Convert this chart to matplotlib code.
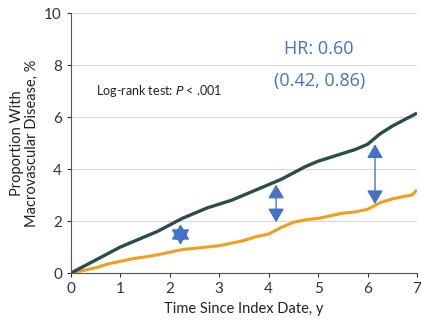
import matplotlib.pyplot as plt
from matplotlib.path import Path

plt.rcParams["font.family"] = ["Lato", "DejaVu Sans"]

# (years, % with macrovascular disease)
t_teal = [0, 0.25, 0.5, 0.75, 1, 1.25, 1.5, 1.75, 2, 2.25, 2.5, 2.75, 3, 3.25, 3.5,
          3.75, 4, 4.25, 4.5, 4.75, 5, 5.25, 5.5, 5.75, 6, 6.25, 6.5, 6.75, 7]
y_teal = [0, 0.25, 0.5, 0.75, 1.0, 1.2, 1.4, 1.6, 1.85, 2.1, 2.3, 2.5, 2.65, 2.8, 3.0,
          3.2, 3.4, 3.6, 3.85, 4.1, 4.3, 4.45, 4.6, 4.75, 4.95, 5.35, 5.65, 5.9, 6.15]
t_orange = [0, 0.25, 0.5, 0.75, 1, 1.25, 1.5, 1.75, 2, 2.25, 2.5, 2.75, 3, 3.25, 3.5,
            3.75, 4, 4.25, 4.5, 4.75, 5, 5.25, 5.5, 5.75, 6, 6.25, 6.5, 6.75, 6.9, 7]
y_orange = [0, 0.1, 0.2, 0.35, 0.45, 0.55, 0.62, 0.7, 0.8, 0.9, 0.95, 1.0, 1.05, 1.15, 1.25,
            1.4, 1.5, 1.75, 1.95, 2.05, 2.1, 2.2, 2.3, 2.35, 2.45, 2.7, 2.85, 2.95, 3.0, 3.2]

star_xy = (2.2, 1.5)
arrows = [(4.15, 3.4, 1.95), (6.15, 4.95, 2.65)]

blue = "#4472c4"

# hexagram marker: two triangles sharing a centre
hexagram = Path(
    [(0, 1), (-0.866, -0.5), (0.866, -0.5), (0, 1),
     (0, -1), (0.866, 0.5), (-0.866, 0.5), (0, -1)],
    [Path.MOVETO, Path.LINETO, Path.LINETO, Path.CLOSEPOLY] * 2,
)

fig = plt.figure(figsize=(4.21, 3.21), dpi=100)
ax = fig.add_axes([0.1686, 0.1495, 0.8219, 0.81])

ax.plot(t_orange, y_orange, color="#f39c1e", lw=2.2, solid_capstyle="butt")
ax.plot(t_teal, y_teal, color="#2a4d4c", lw=2.4, solid_capstyle="butt")

ax.plot(*star_xy, marker=hexagram, color=blue, ms=13, ls="none")
for x, y0, y1 in arrows:
    ax.annotate("", xy=(x, y1), xytext=(x, y0),
                arrowprops=dict(arrowstyle="<|-|>,head_length=0.6,head_width=0.35",
                                color=blue, lw=1.0, mutation_scale=14,
                                shrinkA=0, shrinkB=0))

ax.text(5.02, 8.6, "HR: 0.60", color=blue, fontsize=13, ha="center", va="center",
        family="Open Sans")
ax.text(5.02, 7.4, "(0.42, 0.86)", color=blue, fontsize=13, ha="center", va="center",
        family="Open Sans")
ax.text(0.5, 7.0, "Log-rank test: $\\it{P}$ < .001", fontsize=9, color="#222222",
        va="center")

ax.set_xlim(0, 7)
ax.set_ylim(0, 10)
ax.set_xticks(range(8))
ax.set_yticks(range(0, 11, 2))
ax.grid(axis="y", color="#d9d9d9", lw=0.8)
ax.set_axisbelow(True)
for s in ["top", "right"]:
    ax.spines[s].set_visible(False)
for s in ["left", "bottom"]:
    ax.spines[s].set_color("#555555")
ax.tick_params(colors="#333333", labelsize=11, length=3)

ax.set_xlabel("Time Since Index Date, y", fontsize=10.5, color="#222222")
ax.set_ylabel("Proportion With\nMacrovascular Disease, %", fontsize=10.5,
              color="#222222", linespacing=1.1)

fig.savefig("out.png", dpi=100)
